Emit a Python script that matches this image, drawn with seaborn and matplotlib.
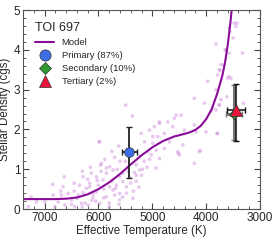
import numpy as np
import pandas as pd
import matplotlib
matplotlib.use("Agg")
import matplotlib.pyplot as plt
from matplotlib.ticker import MultipleLocator
import seaborn as sns

# --- model curve ---
model_teff = [7400, 7200, 7000, 6800, 6600, 6400, 6200, 6000, 5800, 5600, 5400,
              5200, 5000, 4800, 4600, 4400, 4300, 4200, 4100, 4000, 3900, 3800,
              3700, 3650, 3600, 3550, 3520]
model_rho = [0.25, 0.25, 0.25, 0.25, 0.26, 0.29, 0.37, 0.50, 0.67, 0.88, 1.12,
             1.35, 1.55, 1.71, 1.82, 1.89, 1.93, 1.99, 2.09, 2.26, 2.50, 2.88,
             3.35, 3.68, 4.12, 4.68, 5.1]

# --- background stars ---
star_teff = [6635, 6297, 6284, 6655, 6451, 6562, 6686, 6840, 6377, 6284, 6223, 6162,
             6994, 6810, 7148, 7302, 6624, 6440, 6316, 6192, 6747, 6500, 6400,
             5372, 5977, 5626, 5205, 5051, 4990, 5144, 4990, 5298, 5237, 5298, 5360,
             5607, 5853, 6038, 6162, 5792, 5730, 5853, 5946, 5607, 5545, 5668, 5792,
             5915, 6038, 6131, 6100, 5977, 5730, 5483, 5607, 5237, 5082, 5020,
             4219, 4034, 3757, 4712, 4558, 4466, 4867, 4960, 4219, 4188, 4003, 3787,
             4620, 4404, 4775, 4898, 4682, 4434, 4527, 4497, 4127, 4775, 4928, 4867,
             4219, 4928,
             3480, 3448, 3572, 3818, 3633, 3572, 3325, 3725, 3757, 3787, 3572, 3602,
             3972, 3818, 3725, 3757, 3879, 3910, 3430, 3559, 3500, 3650, 3676, 3744,
             3540, 3615, 3306, 3818, 4590,
             5990, 5958, 5495, 4867, 4108, 4515, 3800,
             6450, 6350, 6200, 6100, 6000, 5900, 5850, 5750, 5700, 5650, 5550, 5500,
             5450, 5400, 5350, 5300, 5250, 5200, 5150, 5100, 5050, 6250, 6050, 5800,
             5550, 5950, 6150, 5880, 5700, 5600, 5750, 5800, 6300, 6500, 6700, 6850,
             7250, 6020, 5680, 5480, 5330, 5180, 6120, 5900, 5620, 5420]
star_rho = [0.81, 0.95, 0.81, 0.56, 0.65, 0.39, 0.35, 0.35, 0.35, 0.41, 0.52, 0.65,
            0.18, 0.06, 0.18, 0.06, 0.10, 0.06, 0.14, 0.10, 0.18, 0.23, 0.27,
            2.34, 1.69, 1.58, 1.90, 1.98, 1.82, 1.69, 1.65, 1.11, 0.98, 0.85, 0.27,
            0.23, 0.31, 0.43, 0.56, 1.06, 0.98, 1.03, 1.15, 0.81, 0.69, 0.60, 0.56,
            0.73, 0.81, 0.90, 0.39, 0.14, 0.48, 0.56, 0.39, 1.32, 1.44, 1.36,
            2.78, 2.66, 2.61, 2.19, 2.36, 2.36, 2.15, 2.07, 2.11, 1.94, 1.94, 1.90,
            2.07, 1.98, 1.90, 1.82, 1.69, 1.61, 1.44, 1.36, 1.44, 1.52, 1.48, 1.27,
            1.15, 1.03,
            4.67, 4.59, 4.55, 4.15, 4.00, 3.92, 3.92, 3.63, 3.50, 3.37, 3.33, 3.29,
            3.21, 3.00, 2.75, 2.62, 2.54, 2.46, 4.67, 4.46, 4.30, 4.00, 3.62, 3.49,
            3.28, 2.82, 2.66, 2.49, 2.28,
            1.69, 1.10, 2.61, 2.19, 1.47, 1.40, 1.90,
            0.45, 0.60, 0.75, 0.30, 0.60, 0.50, 0.90, 0.70, 0.35, 1.00, 0.90, 1.20,
            0.95, 0.65, 0.45, 0.70, 0.55, 0.85, 1.20, 1.05, 1.25, 0.15, 0.20, 0.15,
            0.30, 0.95, 1.05, 1.25, 1.30, 1.20, 1.45, 0.05, 0.05, 0.12, 0.45, 0.62,
            0.30, 0.72, 0.52, 0.40, 0.92, 1.00, 0.22, 0.28, 0.12, 0.80]

# --- TOI 697 components ---
comp_names = ["Primary (87%)", "Secondary (10%)", "Tertiary (2%)"]
comp_teff = [5430, 3480, 3445]
comp_teff_err = [140, 150, 165]
comp_rho = [1.44, 2.40, 2.50]
comp_rho_lo = [0.66, 0.67, 0.78]
comp_rho_hi = [0.62, 0.72, 0.64]
comp_colors = ["#3d6ee6", "#2e9a2e", "#e8143c"]
comp_markers = ["o", "D", "^"]
comp_sizes = [7, 5.5, 8]
comp_err_colors = ["#222222", "#777777", "#111111"]
comp_err_widths = [1.3, 2.2, 1.1]

stars = pd.DataFrame({"teff": star_teff, "rho": star_rho})
model = pd.DataFrame({"teff": model_teff, "rho": model_rho})

sns.set_style("ticks")
plt.rcParams["font.family"] = ["Liberation Sans", "DejaVu Sans"]

fig = plt.figure(figsize=(2.74, 2.40), dpi=100)
ax = fig.add_axes([0.084, 0.129, 0.865, 0.829])

sns.scatterplot(data=stars, x="teff", y="rho", ax=ax, color="#cc85da", alpha=0.45,
                s=7, edgecolor="none", legend=False, zorder=1)
sns.lineplot(data=model, x="teff", y="rho", ax=ax, sort=False, color="#8a0c98",
             lw=1.5, label="Model", zorder=2)

for i in range(3):
    ax.errorbar(comp_teff[i], comp_rho[i], xerr=comp_teff_err[i],
                yerr=[[comp_rho_lo[i]], [comp_rho_hi[i]]], fmt="none",
                ecolor=comp_err_colors[i], elinewidth=comp_err_widths[i],
                capsize=2, capthick=1, zorder=3)
    ax.plot(comp_teff[i], comp_rho[i], marker=comp_markers[i], ls="none",
            ms=comp_sizes[i], color=comp_colors[i], mec="#333333", mew=0.5,
            label=comp_names[i], zorder=4)

ax.set_xlim(7400, 3000)
ax.set_ylim(0, 5)
ax.xaxis.set_major_locator(MultipleLocator(1000))
ax.xaxis.set_minor_locator(MultipleLocator(200))
ax.yaxis.set_major_locator(MultipleLocator(1))
ax.yaxis.set_minor_locator(MultipleLocator(0.2))
ax.tick_params(which="both", direction="in", top=True, right=True, labelsize=8.5,
               color="#444444")
ax.tick_params(which="major", length=4, pad=2)
ax.tick_params(which="minor", length=2)
for sp in ax.spines.values():
    sp.set_color("#555555")
    sp.set_linewidth(0.8)

ax.set_xlabel("Effective Temperature (K)", fontsize=8.3, labelpad=1)
ax.set_ylabel("Stellar Density (cgs)", fontsize=8.3, labelpad=2)

leg = ax.legend(loc="upper left", title="TOI 697", frameon=False, fontsize=6.8,
                title_fontsize=9, handlelength=2.0, handletextpad=0.8,
                borderaxespad=0.9, labelspacing=0.42, alignment="left",
                markerscale=1.15)

fig.savefig("out.png", dpi=100)
